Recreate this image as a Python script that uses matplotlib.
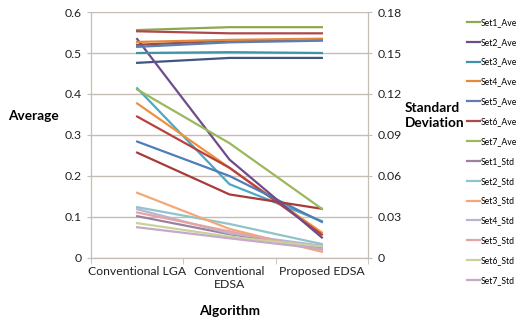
import matplotlib
matplotlib.use('Agg')
import matplotlib.pyplot as plt
from matplotlib.ticker import FixedLocator

plt.rcParams['font.family'] = ['Lato', 'DejaVu Sans']

categories = ['Conventional LGA', 'Conventional\nEDSA', 'Proposed EDSA']

# Average series (left axis)
ave_names = ['Set1_Ave', 'Set2_Ave', 'Set3_Ave', 'Set4_Ave', 'Set5_Ave', 'Set6_Ave', 'Set7_Ave']
ave_values = [
    [0.556, 0.563, 0.563],
    [0.534, 0.240, 0.050],
    [0.500, 0.502, 0.500],
    [0.527, 0.532, 0.535],
    [0.515, 0.526, 0.530],
    [0.553, 0.548, 0.548],
    [0.411, 0.280, 0.120],
]
ave_colors = ['#8DA84E', '#6E4C8C', '#3F93A8', '#E8893A', '#5E7FAE', '#B0474A', '#9BB85C']

# further series drawn on the chart but not listed in the legend (left axis)
extra_values = [
    [0.520, 0.530, 0.532],
    [0.476, 0.488, 0.488],
    [0.414, 0.180, 0.090],
    [0.377, 0.220, 0.062],
    [0.345, 0.220, 0.057],
    [0.284, 0.200, 0.088],
    [0.257, 0.155, 0.120],
]
extra_colors = ['#8E4E52', '#3E5680', '#4AAAC2', '#F0903E', '#B8403E', '#4F7DB8', '#A83A3A']

# Standard deviation series (right axis)
std_names = ['Set1_Std', 'Set2_Std', 'Set3_Std', 'Set4_Std', 'Set5_Std', 'Set6_Std', 'Set7_Std']
std_values = [
    [0.0306, 0.0174, 0.0075],
    [0.0372, 0.0249, 0.0102],
    [0.0477, 0.0213, 0.0045],
    [0.0357, 0.0180, 0.0090],
    [0.0333, 0.0195, 0.0060],
    [0.0255, 0.0156, 0.0084],
    [0.0225, 0.0144, 0.0066],
]
std_colors = ['#9E7F9E', '#8EC4CC', '#F4A878', '#B8B4D4', '#E4A4A4', '#C4D49C', '#C8A8C8']

grid_color = '#C4BDB6'
x = list(range(len(categories)))

fig = plt.figure(figsize=(5.22, 3.21), dpi=100)
ax = fig.add_axes([0.1743, 0.1963, 0.5307, 0.7663])
ax2 = ax.twinx()

handles = []
for vals, c in zip(extra_values, extra_colors):
    ax.plot(x, vals, color=c, lw=1.6)
for name, vals, c in zip(ave_names, ave_values, ave_colors):
    h, = ax.plot(x, vals, color=c, lw=1.6, label=name)
    handles.append(h)
for name, vals, c in zip(std_names, std_values, std_colors):
    h, = ax2.plot(x, vals, color=c, lw=1.6, label=name)
    handles.append(h)

ax.set_xlim(-0.5, 2.5)
ax.set_ylim(0, 0.6)
ax2.set_ylim(0, 0.18)
ax.set_yticks([0, 0.1, 0.2, 0.3, 0.4, 0.5, 0.6])
ax.set_yticklabels(['0', '0.1', '0.2', '0.3', '0.4', '0.5', '0.6'])
ax2.set_yticks([0, 0.03, 0.06, 0.09, 0.12, 0.15, 0.18])
ax2.set_yticklabels(['0', '0.03', '0.06', '0.09', '0.12', '0.15', '0.18'])
ax.yaxis.grid(True, color=grid_color, lw=1.0)
ax.set_axisbelow(True)

ax.set_xticks(x)
ax.set_xticklabels(categories)
ax.xaxis.set_minor_locator(FixedLocator([-0.5, 0.5, 1.5, 2.5]))
ax.tick_params(axis='x', which='major', length=0, pad=6, labelsize=8.8, colors='#222222')
ax.tick_params(axis='x', which='minor', length=4, color=grid_color)
ax.tick_params(axis='y', length=3, color=grid_color, labelsize=8.8, labelcolor='#222222', pad=4)
ax2.tick_params(axis='y', length=3, color=grid_color, labelsize=8.8, labelcolor='#222222', pad=4)

for a in (ax, ax2):
    a.spines['top'].set_visible(False)
    for s in ('left', 'right', 'bottom'):
        a.spines[s].set_color(grid_color)

fig.text(0.015, 0.64, 'Average', fontsize=9.8, fontweight='bold', ha='left', va='center')
fig.text(0.775, 0.64, 'Standard\nDeviation', fontsize=9.8, fontweight='bold',
         ha='left', va='center', linespacing=1.35)
fig.text(0.44, 0.03, 'Algorithm', fontsize=9.8, fontweight='bold', ha='center', va='center')

fig.legend(handles=handles, loc='upper left', bbox_to_anchor=(0.888, 0.955),
           frameon=False, fontsize=6.2, handlelength=1.5, handletextpad=0.15,
           labelspacing=1.26, borderaxespad=0)

fig.savefig('out.png', dpi=100)
